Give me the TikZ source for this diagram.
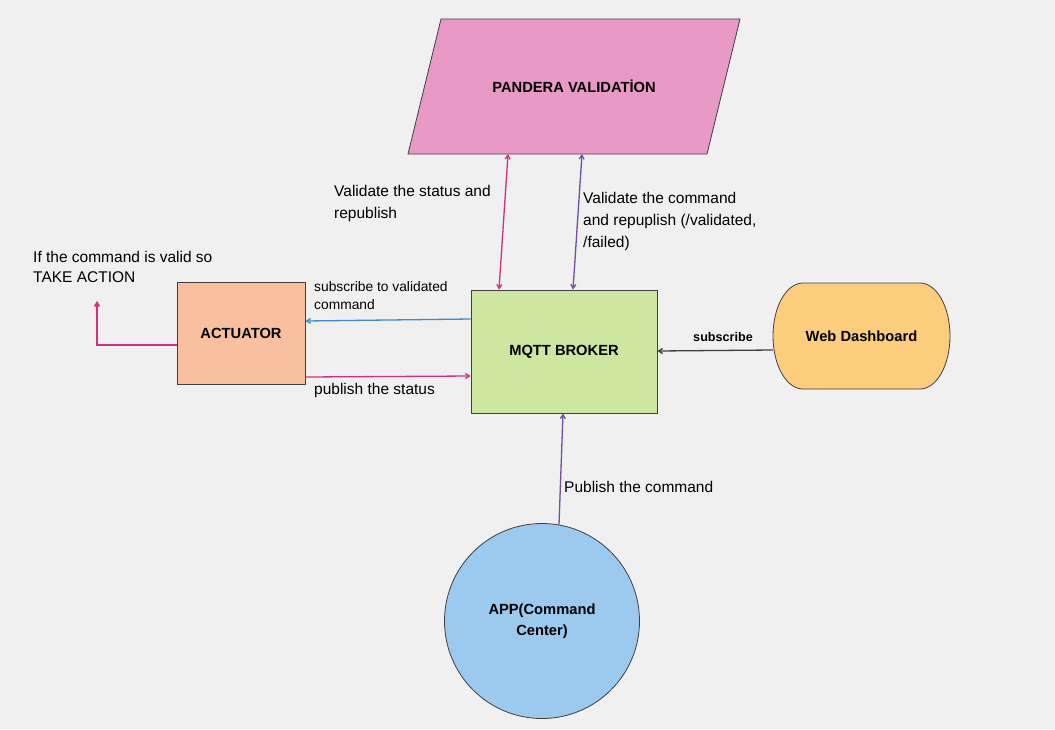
\documentclass[tikz,border=0pt]{standalone}
\usepackage{fontspec}
\setmainfont{Liberation Sans}
\usepackage{xcolor}
\usetikzlibrary{positioning,arrows.meta}

\definecolor{bgcol}{HTML}{F0F0F0}
\definecolor{pandfill}{HTML}{E899C6}
\definecolor{brokerfill}{HTML}{CDE6A0}
\definecolor{actfill}{HTML}{F8C09F}
\definecolor{webfill}{HTML}{FDCD7E}
\definecolor{appfill}{HTML}{9CC9EE}
\definecolor{pinkline}{HTML}{D0307E}
\definecolor{purpline}{HTML}{7050A0}
\definecolor{blueline}{HTML}{3C8AD0}
\definecolor{grayline}{HTML}{404040}

\begin{document}
\begin{tikzpicture}[
      x = 1pt, y = -1pt,
      block/.style = {draw = black!75, line width = 0.8pt, font = \fontsize{14.7}{21}\selectfont\bfseries, align = center},
      lbl/.style = {inner sep = 0pt, align = left, anchor = north west, font = \fontsize{15.5}{22}\selectfont},
      conn/.style = {line width = 1.3pt, -{Straight Barb[length = 4pt, width = 5pt]}},
      biconn/.style = {line width = 1.3pt, {Straight Barb[length = 4pt, width = 5pt]}-{Straight Barb[length = 4pt, width = 5pt]}}
      ]
      \useasboundingbox (0,0) rectangle (1055,729);
      \fill[bgcol] (0,0) rectangle (1055,729);

      % pandera (parallelogram)
      \filldraw[fill = pandfill, draw = black!75, line width = 0.8pt]
            (408,154) -- (707,154) -- (740,19) -- (441,19) -- cycle;
      \node[font = \fontsize{14.7}{21}\selectfont\bfseries] (pandera) at (574,86) {PANDERA VALIDATİON};
      \coordinate (pvleft) at (508,154);
      \coordinate (pvright) at (582,154);

      % web dashboard (stadium)
      \filldraw[fill = webfill, draw = black!75, line width = 0.8pt]
            (803,283) -- (920,283) arc[start angle = 90, end angle = -90, x radius = 30pt, y radius = 53pt]
            -- (803,389) arc[start angle = 270, end angle = 90, x radius = 30pt, y radius = 53pt] -- cycle;
      \node[font = \fontsize{14.7}{21}\selectfont\bfseries, minimum width = 177pt, minimum height = 106pt] (web) at (861.5,336) {Web Dashboard};

      % blocks
      \node[block, fill = brokerfill, minimum width = 186pt, minimum height = 123pt] (broker) at (564,351.5) {MQTT BROKER};
      \node[block, fill = actfill, minimum width = 128pt, minimum height = 102pt] (actuator) at (241,333) {ACTUATOR};
      \node[block, fill = appfill, circle, minimum size = 195pt] (app) at (542,621) {APP(Command\\Center)};
      \coordinate (takeact) at (97,301);
      \coordinate (actcorner) at (97,345);

      % connectors
      \draw[biconn, pinkline] (pvleft) -- ([xshift = -65pt]broker.north);
      \draw[biconn, purpline] (pvright) -- ([xshift = 9pt]broker.north);
      \draw[conn, blueline] ([yshift = 32.5pt]broker.west) -- ([yshift = 12pt]actuator.east);
      \draw[conn, pinkline] ([yshift = -44pt]actuator.east) -- ([yshift = -24.5pt]broker.west);
      \draw[conn, pinkline, line width = 1.6pt] (actuator.west |- actcorner) -- (actcorner) -- (takeact);
      \draw[conn, grayline] ([yshift = -14pt]web.west) -- ([yshift = 0.5pt]broker.east);
      \draw[conn, purpline] (app.80) -- ([xshift = -1pt]broker.south);

      % labels
      \node[lbl] (lstatus) at (334,185.5) {Validate the status and\\republish};
      \node[lbl] (lcommand) at (583,192) {Validate the command\\and repuplish (/validated,\\/failed)};
      \node[lbl, font = \fontsize{15.5}{20}\selectfont] (laction) at (33,251.5) {If the command is valid so\\TAKE ACTION};
      \node[lbl, font = \fontsize{13.8}{18}\selectfont] (lsub) at (314,281.5) {subscribe to validated\\command};
      \node[lbl] (lpub) at (314,383) {publish the status};
      \node[font = \fontsize{12.6}{14}\selectfont\bfseries, inner sep = 0pt] (lweb) at (723,337) {subscribe};
      \node[lbl] (lapp) at (564,481.5) {Publish the command};
\end{tikzpicture}
\end{document}
